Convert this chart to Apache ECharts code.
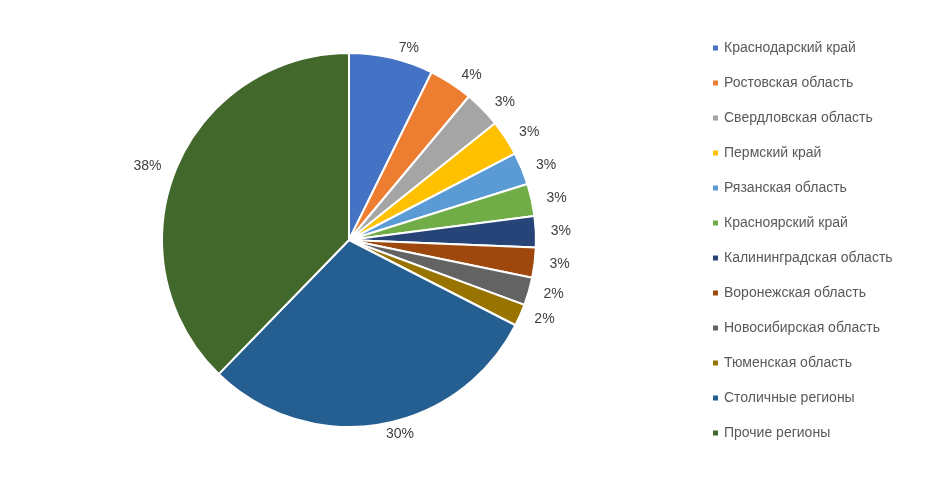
<!DOCTYPE html>
<html>
<head>
<meta charset="utf-8">
<script src="https://cdn.jsdelivr.net/npm/echarts@6/dist/echarts.min.js"></script>
<style>html,body{margin:0;padding:0;background:#fff}#chart{width:950px;height:478px}</style>
</head>
<body>
<div id="chart"></div>
<script>
// данные
var regions = ['Краснодарский край', 'Ростовская область', 'Свердловская область', 'Пермский край',
  'Рязанская область', 'Красноярский край', 'Калининградская область', 'Воронежская область',
  'Новосибирская область', 'Тюменская область', 'Столичные регионы', 'Прочие регионы'];
var shares = [7.3, 3.8, 3.2, 3.1, 2.8, 2.8, 2.7, 2.6, 2.4, 1.9, 29.8, 37.8];
var colors = ['#4472C4', '#ED7D31', '#A5A5A5', '#FFC000', '#5B9BD5', '#70AD47',
  '#264478', '#9E480E', '#636363', '#997300', '#255E91', '#43682B'];

var myChart = echarts.init(document.getElementById('chart'));

var option = {
  color: colors,
  legend: {
    orient: 'vertical',
    left: 706,
    top: 36,
    icon: 'rect',
    itemWidth: 7,
    itemHeight: 7,
    itemGap: 21,
    textStyle: { fontFamily: 'Liberation Sans', fontSize: 14, color: '#595959' },
    data: regions
  },
  series: [{
    type: 'pie',
    center: [349, 240],
    radius: 187,
    startAngle: 90,
    clockwise: true,
    animation: false,
    itemStyle: { borderColor: '#fff', borderWidth: 2 },
    label: {
      position: 'outside',
      formatter: '{d}%',
      fontFamily: 'Liberation Sans',
      fontSize: 14,
      color: '#404040'
    },
    labelLine: { show: false, length: 10, length2: 0 },
    data: regions.map(function (r, i) {
      return { name: r, value: shares[i], label: { formatter: Math.round(shares[i]) + '%' } };
    })
  }]
};

myChart.setOption(option);
</script>
</body>
</html>
